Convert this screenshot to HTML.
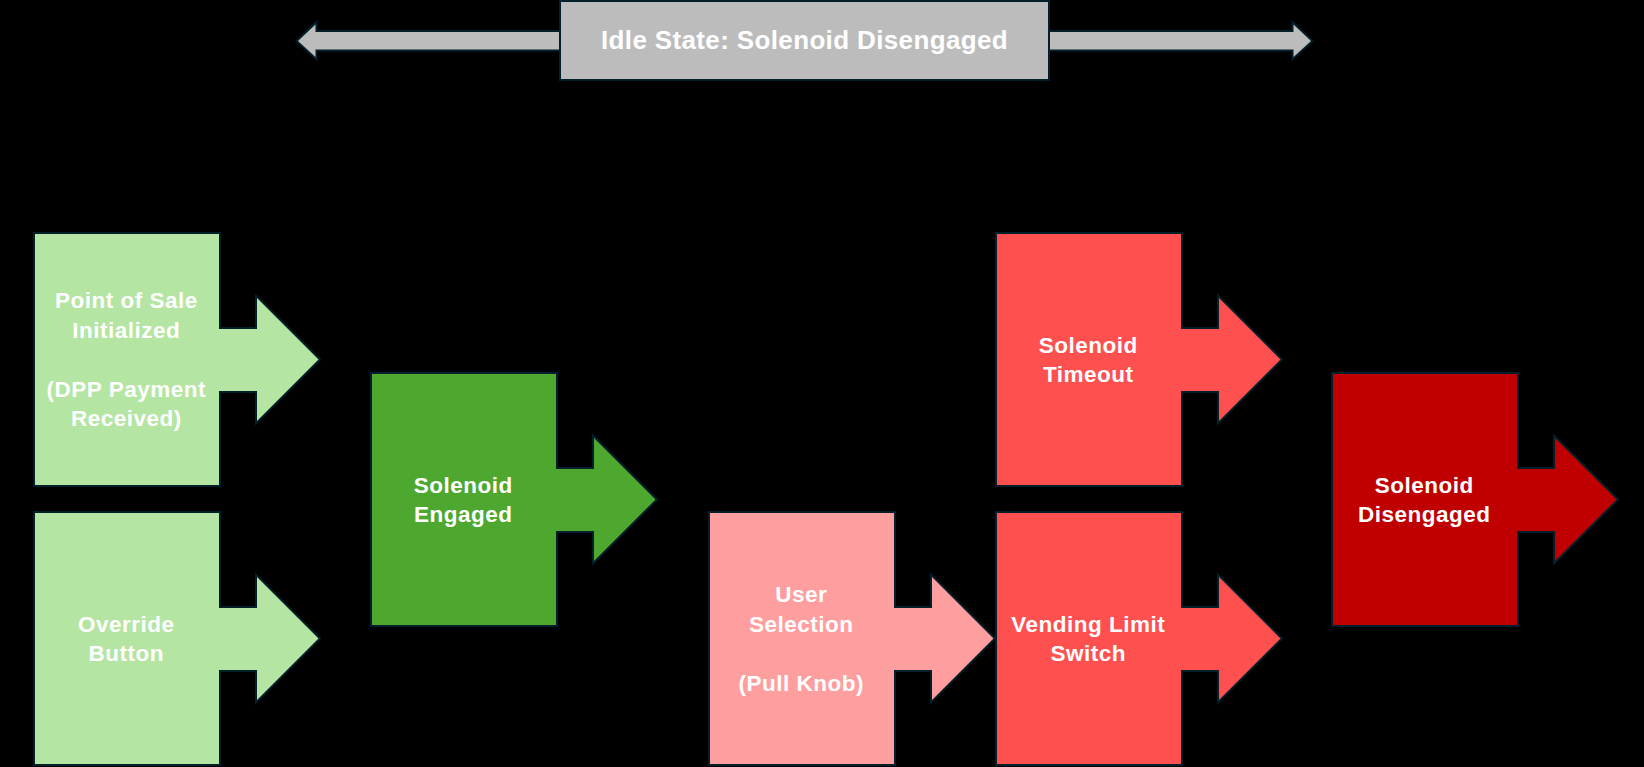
<!DOCTYPE html>
<html><head><meta charset="utf-8"><style>
html,body{margin:0;padding:0;background:#000;}
body{width:1644px;height:767px;position:relative;overflow:hidden;font-family:"Liberation Sans",sans-serif;}
svg{position:absolute;left:0;top:0;}
.t{position:absolute;color:#fff;font-weight:bold;font-size:22.5px;letter-spacing:0.5px;line-height:29.5px;text-align:center;white-space:nowrap;}
.title{position:absolute;left:561px;top:2px;width:487px;height:77px;color:#fff;font-weight:bold;font-size:26px;letter-spacing:0.36px;line-height:77px;text-align:center;white-space:nowrap;}
</style></head><body>
<svg width="1644" height="767" viewBox="0 0 1644 767">
<path d="M298,41 L315.5,24.5 V32 H1293.5 V24.5 L1311,41 L1293.5,57 V49.5 H315.5 V57 Z" fill="#bcbcbc" stroke="#03202a" stroke-width="4"/><path d="M298,41 L315.5,24.5 V32 H1293.5 V24.5 L1311,41 L1293.5,57 V49.5 H315.5 V57 Z" fill="#bcbcbc"/><rect x="561" y="2" width="487" height="77" fill="#bcbcbc" stroke="#03202a" stroke-width="4"/><rect x="561" y="2" width="487" height="77" fill="#bcbcbc"/><path d="M35,234 H219 V329 H257 V298 L318.5,359.5 L257,421 V391 H219 V485 H35 Z" fill="#b4e5a2" stroke="#03202a" stroke-width="4" stroke-linejoin="miter"/><path d="M35,234 H219 V329 H257 V298 L318.5,359.5 L257,421 V391 H219 V485 H35 Z" fill="#b4e5a2"/><path d="M35,513 H219 V608 H257 V577 L318.5,638.5 L257,700 V670 H219 V764 H35 Z" fill="#b4e5a2" stroke="#03202a" stroke-width="4" stroke-linejoin="miter"/><path d="M35,513 H219 V608 H257 V577 L318.5,638.5 L257,700 V670 H219 V764 H35 Z" fill="#b4e5a2"/><path d="M372,374 H556 V469 H594 V438 L655.5,499.5 L594,561 V531 H556 V625 H372 Z" fill="#4ea72e" stroke="#03202a" stroke-width="4" stroke-linejoin="miter"/><path d="M372,374 H556 V469 H594 V438 L655.5,499.5 L594,561 V531 H556 V625 H372 Z" fill="#4ea72e"/><path d="M710,513 H894 V608 H932 V577 L993.5,638.5 L932,700 V670 H894 V764 H710 Z" fill="#ff9e9e" stroke="#03202a" stroke-width="4" stroke-linejoin="miter"/><path d="M710,513 H894 V608 H932 V577 L993.5,638.5 L932,700 V670 H894 V764 H710 Z" fill="#ff9e9e"/><path d="M997,234 H1181 V329 H1219 V298 L1280.5,359.5 L1219,421 V391 H1181 V485 H997 Z" fill="#ff5050" stroke="#03202a" stroke-width="4" stroke-linejoin="miter"/><path d="M997,234 H1181 V329 H1219 V298 L1280.5,359.5 L1219,421 V391 H1181 V485 H997 Z" fill="#ff5050"/><path d="M997,513 H1181 V608 H1219 V577 L1280.5,638.5 L1219,700 V670 H1181 V764 H997 Z" fill="#ff5050" stroke="#03202a" stroke-width="4" stroke-linejoin="miter"/><path d="M997,513 H1181 V608 H1219 V577 L1280.5,638.5 L1219,700 V670 H1181 V764 H997 Z" fill="#ff5050"/><path d="M1333,374 H1517 V469 H1555 V438 L1616.5,499.5 L1555,561 V531 H1517 V625 H1333 Z" fill="#c00000" stroke="#03202a" stroke-width="4" stroke-linejoin="miter"/><path d="M1333,374 H1517 V469 H1555 V438 L1616.5,499.5 L1555,561 V531 H1517 V625 H1333 Z" fill="#c00000"/>
</svg>
<div class="title">Idle State: Solenoid Disengaged</div>
<div class="t" style="left:34.3px;top:286.25px;width:184px">Point of Sale<br>Initialized<br>&nbsp;<br>(DPP Payment<br>Received)</div><div class="t" style="left:34.3px;top:609.50px;width:184px">Override<br>Button</div><div class="t" style="left:371.3px;top:470.50px;width:184px">Solenoid<br>Engaged</div><div class="t" style="left:709.3px;top:580.00px;width:184px">User<br>Selection<br>&nbsp;<br>(Pull Knob)</div><div class="t" style="left:996.3px;top:330.50px;width:184px">Solenoid<br>Timeout</div><div class="t" style="left:996.3px;top:609.50px;width:184px">Vending Limit<br>Switch</div><div class="t" style="left:1332.3px;top:470.50px;width:184px">Solenoid<br>Disengaged</div>
</body></html>
